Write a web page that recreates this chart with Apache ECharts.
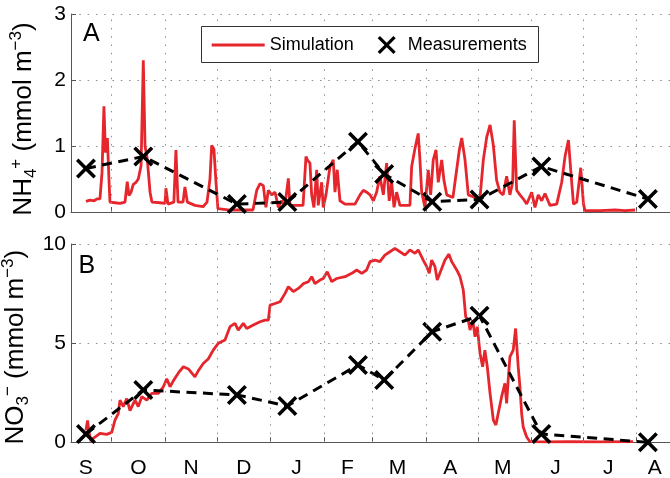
<!DOCTYPE html>
<html>
<head>
<meta charset="utf-8">
<script src="https://cdn.jsdelivr.net/npm/echarts@6/dist/echarts.min.js"></script>
<style>
html,body{margin:0;padding:0;background:#fff;}
#chart{width:670px;height:478px;}
</style>
</head>
<body>
<div id="chart"></div>
<script>
// ---- Data (x = days since 1 September) ----
const monthTicks = [30, 61, 91, 122, 153, 181, 212, 242, 273, 303, 334];
const monthLabelDays = [15, 45.5, 76, 106.5, 137, 166.5, 195.5, 226, 256.5, 287, 317.5, 344.5];
const monthLetters = ['S','O','N','D','J','F','M','A','M','J','J','A'];

const measDays = [15.1, 48.3, 102.5, 131.7, 172.6, 187.8, 215.6, 243, 278.8, 340.5];
const measNH4  = [0.66, 0.84, 0.12, 0.15, 1.065, 0.576, 0.156, 0.19, 0.69, 0.197];
const measNO3  = [0.42, 2.64, 2.39, 1.83, 3.9, 3.14, 5.58, 6.38, 0.42, 0.0];

const simNH4 = [
 [15.1,0.16],[17.4,0.18],[19.8,0.17],[21.5,0.2],[23.2,0.2],[24.4,0.6],[25.5,1.6],[26.4,0.9],[27.5,1.12],[28.4,0.5],
 [29,0.15],[31.9,0.14],[34.8,0.13],[37.7,0.15],[39,0.46],[40,0.25],[41.2,0.3],[42.5,0.42],[44.1,0.45],[45.4,0.5],
 [47,0.7],[48.3,2.3],[49.3,1.0],[50.6,0.8],[52.2,0.3],[53.3,0.15],[58,0.14],[60.9,0.13],[61.4,0.36],[62.6,0.12],
 [66,0.15],[67.2,0.94],[68.4,0.15],[71.3,0.15],[72.4,0.38],[73.8,0.15],[78.2,0.1],[82.9,0.08],[85.2,0.15],[86.9,0.5],
 [87.9,1.01],[89.2,0.95],[90.4,0.45],[91.5,0.05],[98.5,0.03],[107.2,0.03],[111.8,0.03],[114,0.33],[115.9,0.43],[117.8,0.4],
 [119.3,0.07],[120.7,0.33],[122.6,0.26],[124.6,0.3],[126.5,0.07],[128.4,0.17],[130.3,0.1],[132.3,0.51],[133.2,0.1],[136.1,0.1],
 [140.8,0.1],[142.5,0.84],[143.3,0.79],[144.8,0.74],[145.8,0.26],[147.1,0.07],[148.7,0.64],[149.6,0.1],[151.6,0.45],[152.5,0.07],
 [154.1,0.26],[156.4,0.69],[158.3,0.79],[159.3,0.3],[160.6,0.64],[162.2,0.17],[165.1,0.12],[170.9,0.12],[173.8,0.26],[175.7,0.33],
 [177.6,0.3],[179.6,0.26],[181.5,0.17],[183.4,0.3],[185.3,0.54],[187.3,0.26],[189.2,0.74],[190.7,0.17],[192.1,0.45],[193.5,0.07],
 [195,0.3],[196.9,0.1],[202.7,0.1],[203.7,0.69],[205.6,0.96],[207.5,1.19],[208.5,0.79],[209.5,0.3],[211.4,0.07],[213.3,0.64],
 [214.7,0.26],[216.2,0.79],[217.8,0.94],[219.1,0.45],[221.1,0.79],[222.4,0.48],[224,0.26],[227.6,0.22],[231.3,0.94],[232.7,1.12],
 [234.6,0.79],[236.5,0.26],[240.4,0.22],[243.3,0.22],[245.2,0.79],[247.2,1.14],[249.1,1.32],[251,1.01],[252.9,0.48],[254.8,0.3],
 [256.7,0.26],[258.7,0.54],[260.6,0.26],[262.2,0.45],[263.1,1.39],[264.5,0.33],[266.4,0.26],[268.3,0.2],[270.3,0.12],[273.2,0.3],
 [275.1,0.07],[277,0.26],[279,0.17],[280.9,0.28],[283.8,0.1],[287.7,0.12],[290.6,0.45],[292.5,0.84],[294.5,1.09],[295.8,0.64],
 [297.4,0.12],[299.3,0.15],[301.6,0.67],[303.2,0.12],[304.1,0.02],[312.8,0.02],[321.5,0.03],[327.3,0.02],[333.1,0.03]
];

const simNO3 = [
 [15.1,0.6],[16,1.1],[16.9,0.5],[18,0.05],[19.2,0.2],[20.9,0.3],[23.2,0.45],[27.1,0.4],[30,0.5],[31.9,1.12],
 [33.8,1.45],[34.8,2.13],[36.7,1.8],[38.7,2.2],[40.6,1.6],[43.5,2.13],[45.4,1.8],[47.4,2.3],[50.3,2.13],[53.2,2.47],
 [57,2.47],[59.9,2.8],[61.9,3.2],[63.8,2.8],[65.7,3.1],[68.6,3.5],[71.5,3.81],[74.4,3.7],[76.3,3.5],[78.2,3.3],
 [80.1,3.6],[83,3.97],[85.9,4.2],[88.8,4.65],[91.7,4.99],[95.6,5.16],[98.5,5.83],[101.4,6.0],[103.3,5.66],[106.2,6.0],
 [108.2,5.74],[112,5.91],[115.9,6.08],[118.8,6.16],[120.7,6.16],[121.7,6.92],[124.6,7.0],[127.5,7.09],[130.4,7.51],[132.3,7.85],
 [135.2,7.6],[138.1,7.76],[141,8.0],[143.9,8.1],[145.8,8.35],[147.7,8.0],[150.6,8.18],[152.5,8.26],[154.8,8.6],[157.4,8.1],
 [160.3,8.26],[165.1,8.35],[169,8.52],[171.9,8.69],[174.8,8.52],[177.6,8.69],[179.6,9.11],[182.5,9.19],[185.3,9.11],[188.2,9.44],
 [191.1,9.61],[194,9.78],[196.9,9.61],[199.8,9.44],[202.7,9.7],[205.6,9.53],[207.5,9.7],[210.4,9.19],[212.4,8.86],[213.9,8.52],
 [215.3,9.19],[217.2,8.86],[218.5,8.18],[221.1,8.77],[223,9.19],[225.3,9.49],[226.9,9.11],[229.8,8.69],[231.7,8.35],[233.6,7.68],
 [235,6.33],[236.5,6.16],[237.5,5.66],[239.1,6.16],[240.4,5.32],[241.7,5.83],[243.3,4.48],[244.8,3.81],[246.1,4.65],[247.5,3.81],
 [249.1,2.47],[251,1.12],[252.5,0.87],[253.8,1.45],[255.8,2.3],[257.7,2.97],[258.7,1.96],[259.6,3.14],[260.6,4.31],[262.5,4.65],
 [263.9,5.74],[265.4,3.81],[266.4,2.8],[267.4,1.45],[268.3,0.77],[270.3,0.27],[272.2,0.03],[280.9,0.02],[295.3,0.03],[312.8,0.02],
 [331.9,0.03]
];

// ---- Styling ----
const FONT = '"Liberation Sans", Arial, Helvetica, sans-serif';
const RED = '#e6262d';
const GRIDC = '#8c8c8c';
const AXISC = '#555';
const X_MIN = 6.43, X_MAX = 353.3;
const X_PATH = 'path://M2.5,0 L10,7.5 L17.5,0 L20,2.5 L12.5,10 L20,17.5 L17.5,20 L10,12.5 L2.5,20 L0,17.5 L7.5,10 L0,2.5 Z';
const dotted = {type: [1.5, 6.8], color: GRIDC, width: 1};

function pairs(xs, ys) { return xs.map((x, i) => [x, ys[i]]); }

function xAxisCfg(gi, showLabels) {
  return {
    type: 'value', gridIndex: gi, min: X_MIN, max: X_MAX,
    axisLine: {show: true, onZero: false, lineStyle: {color: AXISC, width: 1}},
    axisTick: {show: true, inside: true, length: 5, customValues: monthTicks, lineStyle: {color: AXISC}},
    axisLabel: {show: showLabels, customValues: monthLabelDays, margin: 15,
      formatter: v => { const i = monthLabelDays.indexOf(v); return i >= 0 ? monthLetters[i] : ''; },
      fontSize: 21, color: '#000', fontFamily: FONT},
    splitLine: {show: false}
  };
}

function richName(shift) {
  return {
    fontSize: 26, color: '#000', fontFamily: FONT,
    padding: [0, shift, 0, 0],
    rich: {
      a: {fontSize: 26, color: '#000', fontFamily: FONT, verticalAlign: 'middle'},
      s: {fontSize: 17, color: '#000', fontFamily: FONT, verticalAlign: 'middle', padding: [15, 0, 0, 0]},
      p: {fontSize: 17, color: '#000', fontFamily: FONT, verticalAlign: 'middle', padding: [0, 0, 15, 0]}
    }
  };
}

function yAxisCfg(gi, max, interval, name, shift) {
  return {
    type: 'value', gridIndex: gi, min: 0, max: max, interval: interval,
    name: name, nameLocation: 'middle', nameRotate: 90, nameGap: 31.5,
    nameTextStyle: richName(shift),
    axisLine: {show: true, lineStyle: {color: AXISC, width: 1}},
    axisTick: {show: true, inside: true, length: 5, lineStyle: {color: AXISC}},
    axisLabel: {margin: 5, fontSize: 21, color: '#000', fontFamily: FONT},
    splitLine: {show: true, lineStyle: dotted}
  };
}

function markGrid() {
  return {
    silent: true, symbol: ['none', 'none'], label: {show: false},
    lineStyle: dotted, emphasis: {disabled: true},
    data: monthTicks.map(d => ({xAxis: d}))
  };
}

function simSeries(gi, data) {
  return {
    name: 'Simulation', type: 'line', xAxisIndex: gi, yAxisIndex: gi,
    data: data, symbol: 'none', showSymbol: false, z: 2,
    lineStyle: {color: RED, width: 2.8}, itemStyle: {color: RED},
    markLine: markGrid()
  };
}
function measSeries(gi, data) {
  return {
    name: 'Measurements', type: 'line', xAxisIndex: gi, yAxisIndex: gi,
    data: data, symbol: X_PATH, symbolSize: 20, showSymbol: true, z: 3,
    itemStyle: {color: '#000'},
    lineStyle: {color: '#000', width: 3, type: [10, 6.5]}
  };
}

const chart = echarts.init(document.getElementById('chart'), null, {renderer: 'canvas'});
chart.setOption({
  animation: false,
  backgroundColor: '#fff',
  grid: [
    {left: 71, right: 0, top: 14, bottom: 266, containLabel: false, outerBoundsMode: 'none'},
    {left: 71, right: 0, top: 244, bottom: 35.7, containLabel: false, outerBoundsMode: 'none'}
  ],
  xAxis: [xAxisCfg(0, false), xAxisCfg(1, true)],
  yAxis: [
    yAxisCfg(0, 3, 1, '{a|NH}{s|4}{p|+}{a| (mmol m}{p|\u22123}{a|)}', 12),
    yAxisCfg(1, 10, 5, '{a|NO}{s|3}{p|\u2212}{a| (mmol m}{p|\u22123}{a|)}', 8)
  ],
  title: [
    {text: 'A', left: 83, top: 21.5, padding: 0, textStyle: {fontSize: 25, fontWeight: 'normal', color: '#000', fontFamily: FONT}},
    {text: 'B', left: 78.5, top: 253.8, padding: 0, textStyle: {fontSize: 25, fontWeight: 'normal', color: '#000', fontFamily: FONT}}
  ],
  graphic: {elements: [
    {type: 'rect', z: 6, shape: {x: 201.5, y: 26.5, width: 337, height: 36},
     style: {fill: '#fff', stroke: '#333', lineWidth: 1}}
  ]},
  legend: [
    {data: [{name: 'Simulation', icon: 'rect'}], left: 211.7, top: 36, padding: 0, z: 10,
     itemWidth: 53, itemHeight: 3, selectedMode: false,
     itemStyle: {color: RED},
     textStyle: {fontSize: 18, color: '#000', fontFamily: FONT, lineHeight: 18}},
    {data: [{name: 'Measurements', icon: X_PATH}], left: 377.7, top: 36, padding: 0, z: 10,
     itemWidth: 18, itemHeight: 18, selectedMode: false,
     formatter: '{t|{name}}',
     textStyle: {fontSize: 18, color: '#000', fontFamily: FONT,
       rich: {t: {fontSize: 18, color: '#000', fontFamily: FONT, padding: [0, 0, 0, 7]}}}}
  ],
  series: [
    simSeries(0, simNH4),
    measSeries(0, pairs(measDays, measNH4)),
    simSeries(1, simNO3),
    measSeries(1, pairs(measDays, measNO3))
  ]
});
</script>
</body>
</html>
